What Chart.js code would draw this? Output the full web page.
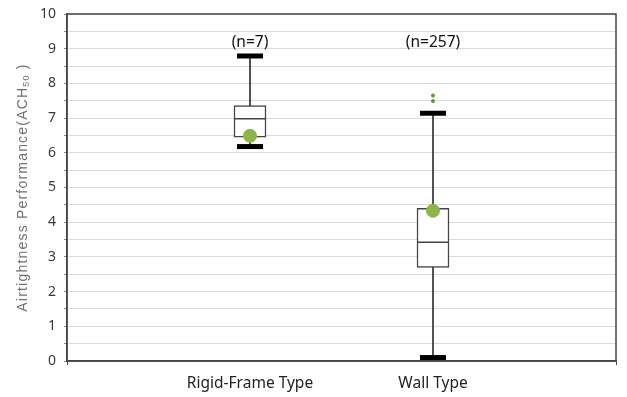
<!DOCTYPE html>
<html>
<head>
<meta charset="utf-8">
<script src="https://cdn.jsdelivr.net/npm/chart.js@4"></script>
<style>
  html, body { margin: 0; padding: 0; background: #fff; }
  #wrap { width: 627px; height: 397px; }
</style>
</head>
<body>
<div id="wrap"><canvas id="c" width="627" height="397"></canvas></div>
<script>
// Category slots: empty edges so the two groups sit at 1/3 and 2/3 of the width
const categories = ['', 'Rigid-Frame Type', 'Wall Type', ''];
const groups = ['Rigid-Frame Type', 'Wall Type'];
const sampleCounts = ['(n=7)', '(n=257)'];

// Five-number summaries per group
const whiskerLow = [6.18, 0.10];
const quartile1 = [6.45, 2.70];
const medians = [6.98, 3.42];
const quartile3 = [7.36, 4.40];
const whiskerHigh = [8.79, 7.14];
const means = [6.49, 4.33];

// Outliers (Wall Type only)
const outlierGroup = ['Wall Type', 'Wall Type'];
const outlierValues = [7.65, 7.49];

const yTicks = [0, 1, 2, 3, 4, 5, 6, 7, 8, 9, 10];

const AXIS = '#444444';
const FONT = "'Noto Sans', 'DejaVu Sans', sans-serif";
const TITLE_FONT = "'Liberation Sans', Arial, sans-serif";

const boxData = categories.map(c => {
  const i = groups.indexOf(c);
  return i < 0 ? null : [quartile1[i], quartile3[i]];
});

const whiskerSets = groups.map((g, i) => ({
  type: 'line',
  data: [{ x: g, y: whiskerLow[i] }, { x: g, y: whiskerHigh[i] }],
  borderColor: '#1a1a1a',
  borderWidth: 1.5,
  pointRadius: 0,
  fill: false,
  order: 5
}));

const capPoints = [];
groups.forEach((g, i) => {
  capPoints.push({ x: g, y: whiskerLow[i] });
  capPoints.push({ x: g, y: whiskerHigh[i] });
});

// Keep the plot area governed by layout padding alone
function noLabelOverflow(scale) {
  scale.paddingTop = 0;
  scale.paddingBottom = 0;
  scale.paddingLeft = 0;
  scale.paddingRight = 0;
}

// Frame around the plot area, sample-size labels, and the rotated axis title
const decorations = {
  id: 'decorations',
  afterDatasetsDraw(chart) {
    const { ctx, chartArea: a, scales } = chart;
    ctx.save();
    ctx.strokeStyle = AXIS;
    ctx.lineWidth = 1.5;
    ctx.strokeRect(a.left, a.top, a.right - a.left, a.bottom - a.top);

    ctx.fillStyle = '#111';
    ctx.font = '15.5px ' + FONT;
    ctx.textAlign = 'center';
    ctx.textBaseline = 'middle';
    groups.forEach((g, i) => {
      const x = scales.x.getPixelForValue(categories.indexOf(g));
      ctx.fillText(sampleCounts[i], x, scales.y.getPixelForValue(9.17));
    });

    // y-axis title with subscript
    const main = 'Airtightness Performance(ACH';
    const sub = '50';
    const tail = ' )';
    ctx.translate(22, (a.top + a.bottom) / 2);
    ctx.rotate(-Math.PI / 2);
    ctx.fillStyle = '#707070';
    ctx.letterSpacing = '1.2px';
    ctx.font = '14px ' + TITLE_FONT;
    const wMain = ctx.measureText(main).width;
    const wTail = ctx.measureText(tail).width;
    ctx.font = '9px ' + TITLE_FONT;
    const wSub = ctx.measureText(sub).width;
    const total = wMain + wSub + wTail;
    const x0 = -total / 2;
    ctx.textAlign = 'left';
    ctx.textBaseline = 'alphabetic';
    ctx.font = '14px ' + TITLE_FONT;
    ctx.fillText(main, x0, 5);
    ctx.font = '9px ' + TITLE_FONT;
    ctx.fillText(sub, x0 + wMain, 7);
    ctx.font = '14px ' + TITLE_FONT;
    ctx.fillText(tail, x0 + wMain + wSub, 5);
    ctx.restore();
  }
};

new Chart(document.getElementById('c'), {
  type: 'bar',
  data: {
    labels: categories,
    datasets: [
      {
        label: 'Mean',
        type: 'scatter',
        data: groups.map((g, i) => ({ x: g, y: means[i] })),
        backgroundColor: '#8cb54a',
        borderColor: '#8cb54a',
        pointRadius: 6.5,
        order: 0
      },
      {
        label: 'Outliers',
        type: 'scatter',
        data: outlierGroup.map((g, i) => ({ x: g, y: outlierValues[i] })),
        backgroundColor: '#5f9a3c',
        borderColor: '#5f9a3c',
        pointRadius: 1.6,
        order: 0
      },
      {
        label: 'Median',
        type: 'scatter',
        data: groups.map((g, i) => ({ x: g, y: medians[i] })),
        pointStyle: 'line',
        pointRadius: 16,
        borderWidth: 1.5,
        borderColor: AXIS,
        order: 1
      },
      {
        label: 'Caps',
        type: 'scatter',
        data: capPoints,
        pointStyle: 'line',
        pointRadius: 13,
        borderWidth: 5,
        borderColor: '#000',
        order: 2
      },
      {
        label: 'IQR',
        data: boxData,
        backgroundColor: '#ffffff',
        borderColor: AXIS,
        borderWidth: 1.5,
        borderSkipped: false,
        barThickness: 32,
        order: 3
      },
      ...whiskerSets
    ]
  },
  options: {
    responsive: false,
    animation: false,
    events: [],
    layout: { autoPadding: false, padding: { left: 0, top: 14, right: 11, bottom: 0 } },
    plugins: { legend: { display: false }, tooltip: { enabled: false } },
    scales: {
      x: {
        type: 'category',
        offset: false,
        grid: {
          display: true,
          offset: false,
          drawOnChartArea: false,
          tickLength: 4,
          tickColor: ctx => (ctx.index === 0 || ctx.index === categories.length - 1) ? AXIS : 'rgba(0,0,0,0)'
        },
        border: { color: AXIS, width: 1.5 },
        ticks: {
          color: '#222',
          font: { family: FONT, size: 15.5 },
          padding: 9,
          autoSkip: false,
          maxRotation: 0
        },
        afterFit(scale) { scale.height = 36; noLabelOverflow(scale); }
      },
      y: {
        min: 0,
        max: 10,
        grid: {
          color: '#dadada',
          lineWidth: 1,
          tickLength: 3,
          tickColor: '#888'
        },
        border: { color: AXIS, width: 1.5 },
        ticks: {
          stepSize: 0.5,
          autoSkip: false,
          color: '#3a3a3a',
          font: { family: FONT, size: 14 },
          padding: 8,
          callback: v => yTicks.includes(v) ? String(v) : ''
        },
        afterFit(scale) { scale.width = 67; noLabelOverflow(scale); }
      }
    }
  },
  plugins: [decorations]
});
</script>
</body>
</html>
